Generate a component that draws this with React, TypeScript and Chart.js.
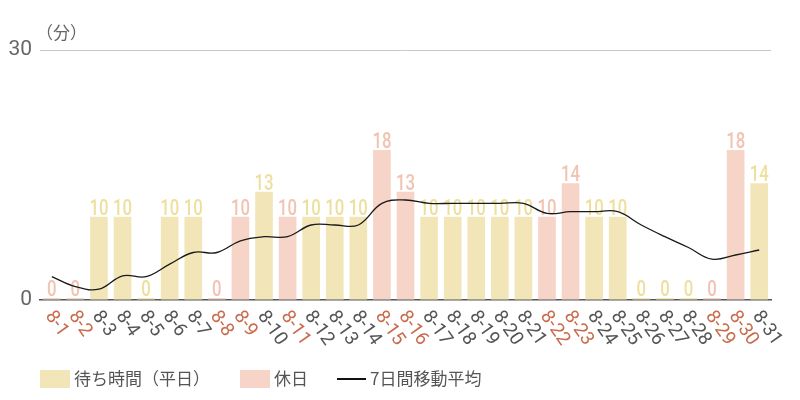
import React, { useEffect, useRef } from "react";
import { Chart, registerables } from "chart.js";

Chart.register(...registerables);

const categories = [
  "8-1", "8-2", "8-3", "8-4", "8-5", "8-6", "8-7", "8-8", "8-9", "8-10",
  "8-11", "8-12", "8-13", "8-14", "8-15", "8-16", "8-17", "8-18", "8-19", "8-20",
  "8-21", "8-22", "8-23", "8-24", "8-25", "8-26", "8-27", "8-28", "8-29", "8-30", "8-31",
];
const holidayFlags = [
  true, true, false, false, false, false, false, true, true, false,
  true, false, false, false, true, true, false, false, false, false,
  false, true, true, false, false, false, false, false, true, true, false,
];
const waitTimes = [
  0, 0, 10, 10, 0, 10, 10, 0, 10, 13,
  10, 10, 10, 10, 18, 13, 10, 10, 10, 10,
  10, 10, 14, 10, 10, 0, 0, 0, 0, 18, 14,
];
const movingAverage = [
  2.8, 1.6, 1.3, 2.9, 2.8, 4.3, 5.7, 5.7, 7.1, 7.6,
  7.6, 9.0, 9.0, 9.0, 11.6, 12.0, 11.6, 11.6, 11.6, 11.6,
  11.6, 10.4, 10.6, 10.6, 10.6, 9.0, 7.6, 6.3, 4.9, 5.4, 6.0,
];
const yTicks = [0, 30];
const legendLabels = ["待ち時間（平日）", "休日", "7日間移動平均"];
const unitLabel = "（分）";

const weekdayValues = waitTimes.map((v, i) => (holidayFlags[i] ? null : v));
const holidayValues = waitTimes.map((v, i) => (holidayFlags[i] ? v : null));

const WEEKDAY_FILL = "#f2e6b9";
const HOLIDAY_FILL = "#f6d4c7";
const WEEKDAY_LABEL = "#ede09f";
const HOLIDAY_LABEL = "#f1c3b0";
const TEXT = "#555555";
const HOLIDAY_TEXT = "#c96b4c";
const CJK = '"Noto Sans CJK JP", "Noto Sans", sans-serif';

const customPlugin = {
  id: "custom",
  afterDatasetDraw(chart: any, args: any) {
    if (args.index !== 0 && args.index !== 1) return;
    const ctx = chart.ctx;
    const meta = chart.getDatasetMeta(args.index);
    const ds = chart.data.datasets[args.index];
    ctx.save();
    ctx.fillStyle = args.index === 0 ? WEEKDAY_LABEL : HOLIDAY_LABEL;
    ctx.font = "500 22px Roboto";
    ctx.textAlign = "center";
    ctx.textBaseline = "alphabetic";
    meta.data.forEach((bar: any, i: number) => {
      const v = ds.data[i];
      if (v === null || v === undefined) return;
      const p = bar.getProps(["x", "y"], true);
      const top = Math.min(p.y, chart.scales.y.getPixelForValue(0) - 2);
      ctx.save();
      ctx.translate(p.x, top - 2);
      ctx.scale(0.76, 1);
      ctx.fillText(String(v), 0, 0);
      ctx.restore();
    });
    ctx.restore();
  },
  afterDraw(chart: any) {
    const ctx = chart.ctx;
    const xs = chart.scales.x;
    const area = chart.chartArea;
    ctx.save();
    // x tick labels
    ctx.font = "400 19px Roboto";
    ctx.textAlign = "left";
    ctx.textBaseline = "middle";
    categories.forEach((c, i) => {
      const x = xs.getPixelForValue(i);
      ctx.save();
      ctx.translate(x - 3, area.bottom + 13);
      ctx.rotate((55 * Math.PI) / 180);
      ctx.fillStyle = holidayFlags[i] ? HOLIDAY_TEXT : TEXT;
      ctx.fillText(c, 0, 0);
      ctx.restore();
    });
    // unit label
    ctx.font = `400 17px ${CJK}`;
    ctx.fillStyle = "#666";
    ctx.textAlign = "left";
    ctx.textBaseline = "middle";
    ctx.fillText(unitLabel, 36, 33);
    // legend
    const ly = 379;
    ctx.font = `400 17px ${CJK}`;
    ctx.fillStyle = WEEKDAY_FILL;
    ctx.fillRect(40, 370, 30, 18);
    ctx.fillStyle = TEXT;
    ctx.fillText(legendLabels[0], 74, ly);
    ctx.fillStyle = HOLIDAY_FILL;
    ctx.fillRect(240, 370, 30, 18);
    ctx.fillStyle = TEXT;
    ctx.fillText(legendLabels[1], 274, ly);
    ctx.strokeStyle = "#111";
    ctx.lineWidth = 2;
    ctx.beginPath();
    ctx.moveTo(337, ly);
    ctx.lineTo(366, ly);
    ctx.stroke();
    ctx.fillText(legendLabels[2], 370, ly);
    ctx.restore();
  },
};

export default function App() {
  const ref = useRef<HTMLCanvasElement | null>(null);
  useEffect(() => {
    document.body.style.margin = "0";
    if (!ref.current) return;
    const chart = new Chart(ref.current, {
      type: "bar",
      data: {
        labels: categories,
        datasets: [
          {
            type: "bar",
            label: legendLabels[0],
            data: weekdayValues,
            backgroundColor: WEEKDAY_FILL,
            grouped: false,
            barPercentage: 0.75,
            categoryPercentage: 1,
            minBarLength: 2,
            order: 2,
          } as any,
          {
            type: "bar",
            label: legendLabels[1],
            data: holidayValues,
            backgroundColor: HOLIDAY_FILL,
            grouped: false,
            barPercentage: 0.75,
            categoryPercentage: 1,
            minBarLength: 2,
            order: 1,
          } as any,
          {
            type: "line",
            label: legendLabels[2],
            data: movingAverage,
            borderColor: "#1a1a1a",
            borderWidth: 1.3,
            pointRadius: 0,
            tension: 0.4,
            fill: false,
            order: 0,
          } as any,
        ],
      },
      options: {
        responsive: false,
        animation: false,
        layout: { padding: { top: 50, bottom: 100, right: 29, left: 0 } },
        plugins: {
          legend: { display: false },
          tooltip: { enabled: false },
        },
        scales: {
          x: {
            grid: { display: false },
            border: { display: true, color: "#555", width: 1.5 },
            ticks: { display: false },
            afterFit: (s: any) => {
              s.height = 0;
            },
          },
          y: {
            min: 0,
            max: 30,
            afterBuildTicks: (s: any) => {
              s.ticks = yTicks.map((v) => ({ value: v }));
            },
            grid: {
              drawTicks: false,
              color: (c: any) => (c.tick && c.tick.value === 0 ? "rgba(0,0,0,0)" : "#c8c8c8"),
            },
            border: { display: false },
            ticks: {
              padding: 8,
              color: "#666",
              font: { family: "Roboto", size: 21 },
            },
            afterFit: (s: any) => {
              s.width = 40;
            },
          },
        },
      },
      plugins: [customPlugin],
    });
    return () => chart.destroy();
  }, []);
  return (
    <div style={{ width: 800, height: 400 }}>
      <canvas ref={ref} width={800} height={400} />
    </div>
  );
}
